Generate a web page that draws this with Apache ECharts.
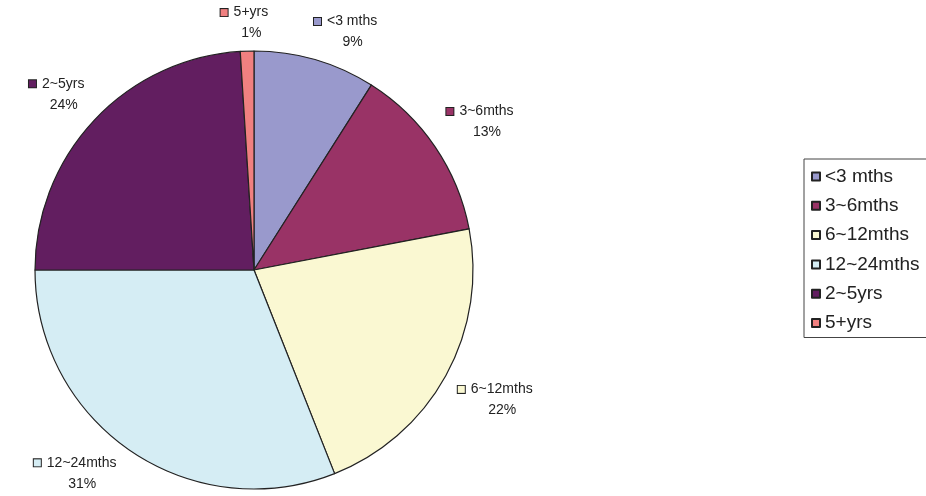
<!DOCTYPE html>
<html>
<head>
<meta charset="utf-8">
<style>
  html, body { margin: 0; padding: 0; background: #ffffff; }
  #chart { width: 926px; height: 496px; }
</style>
<script src="https://cdn.jsdelivr.net/npm/echarts@6/dist/echarts.min.js"></script>
</head>
<body>
<div id="chart"></div>
<script>
// Age bands and their share of the total (percent)
const categories = ['<3 mths', '3~6mths', '6~12mths', '12~24mths', '2~5yrs', '5+yrs'];
const shares = [9, 13, 22, 31, 24, 1];
const colors = ['#9999cc', '#993366', '#faf8d2', '#d5edf4', '#621e60', '#f08080'];

const W = 926, H = 496;
const CX = 254, CY = 270, R = 219;
// anchor ring for the outside labels (horizontal / vertical reach)
const LX = 232, LY = 226;
const total = shares.reduce((a, b) => a + b, 0);

// mid-angle of every slice, radians clockwise from 12 o'clock
const midAngles = [];
let acc = 0;
shares.forEach(v => {
  midAngles.push(((acc + v / 2) / total) * Math.PI * 2);
  acc += v;
});

const clamp = (v, lo, hi) => Math.max(lo, Math.min(hi, v));

// label box centre for an angle: the box corner nearest the pie sits on the anchor ring
function labelCenter(a, w, h) {
  const ux = Math.sin(a), uy = -Math.cos(a);
  const px = CX + LX * ux, py = CY + LY * uy;
  return [px + w * clamp(ux * 3, -1, 1), py + h * clamp(uy * 3, -1, 1)];
}

function fits(c, w, h) {
  return c[0] - w >= 2 && c[0] + w <= W - 2 && c[1] - h >= -1 && c[1] + h <= H - 1;
}

const chart = echarts.init(document.getElementById('chart'), null, { renderer: 'canvas' });

const rich = {};
categories.forEach((c, i) => {
  rich['sq' + i] = {
    width: 7, height: 7,
    backgroundColor: colors[i],
    borderColor: '#222', borderWidth: 1
  };
});
rich.g = { width: 6, height: 7 };
rich.sp = { width: 14, height: 7 };
rich.t = { fontSize: 14, color: '#222', fontFamily: 'Liberation Sans, Arial, sans-serif', lineHeight: 21 };

chart.setOption({
  animation: false,
  color: colors,
  legend: {
    orient: 'vertical',
    left: 804,
    top: 159,
    padding: [8, 60, 5, 7],
    itemWidth: 8,
    itemHeight: 8,
    itemGap: 10.3,
    icon: 'rect',
    borderColor: '#444',
    borderWidth: 1,
    borderRadius: 0,
    data: categories,
    textStyle: {
      fontSize: 19,
      lineHeight: 19,
      color: '#222',
      fontFamily: 'Liberation Sans, Arial, sans-serif'
    }
  },
  series: [{
    type: 'pie',
    center: [CX, CY],
    radius: R,
    startAngle: 90,
    clockwise: true,
    avoidLabelOverlap: false,
    itemStyle: { borderColor: '#222', borderWidth: 1.2 },
    emphasis: { disabled: true },
    label: {
      show: true,
      position: 'outside',
      formatter: p => '{sq' + p.dataIndex + '|}{g|}{t|' + p.name + '}\n{sp|}{t|' + p.value + '%}',
      rich: rich,
      lineHeight: 21
    },
    labelLine: { show: false, length: 10, length2: 0 },
    labelLayout: params => {
      const a0 = midAngles[params.dataIndex];
      const w = params.labelRect.width / 2;
      const h = params.labelRect.height / 2;
      // swing toward the horizontal until the label fits on the canvas
      const dir = Math.sign(Math.sin(a0)) * Math.sign(Math.cos(a0)) || 1;
      let c = labelCenter(a0, w, h);
      for (let k = 0; k <= 60; k += 0.5) {
        const cc = labelCenter(a0 + dir * k * Math.PI / 180, w, h);
        if (fits(cc, w, h)) { c = cc; break; }
      }
      return { x: c[0], y: c[1], align: 'center', verticalAlign: 'middle' };
    },
    data: categories.map((c, i) => ({ name: c, value: shares[i] }))
  }]
});
</script>
</body>
</html>
